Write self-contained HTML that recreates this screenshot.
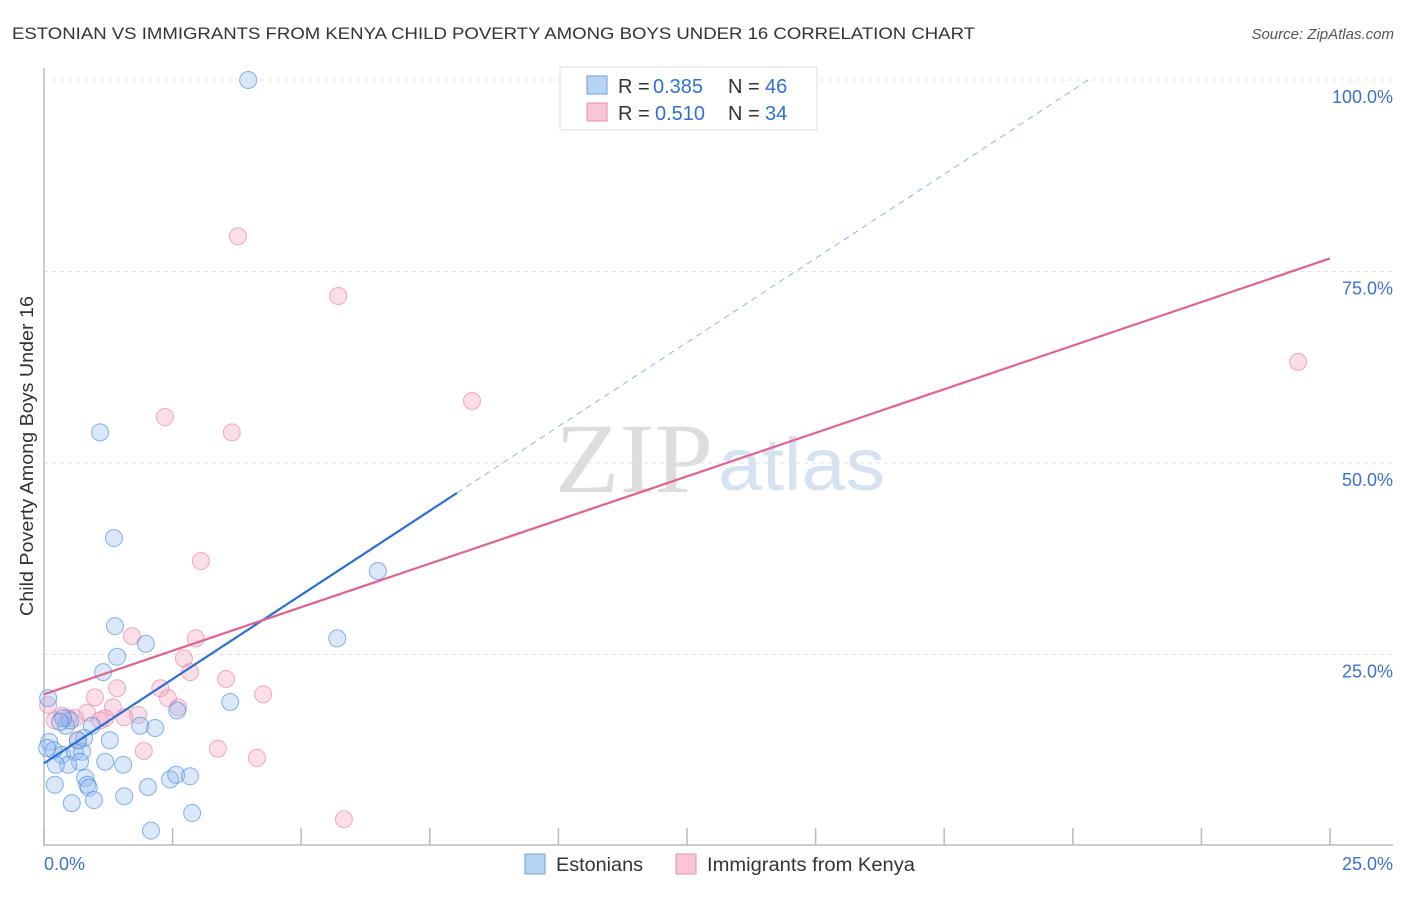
<!DOCTYPE html>
<html><head><meta charset="utf-8"><style>
body{margin:0;background:#fff;font-family:"Liberation Sans",sans-serif}
</style></head><body>
<svg width="1406" height="892" xmlns="http://www.w3.org/2000/svg" font-family="Liberation Sans, sans-serif">
<text x="12" y="39" font-size="17" fill="#333" textLength="963" lengthAdjust="spacingAndGlyphs">ESTONIAN VS IMMIGRANTS FROM KENYA CHILD POVERTY AMONG BOYS UNDER 16 CORRELATION CHART</text>
<text x="1394" y="39" font-size="15" fill="#555" font-style="italic" text-anchor="end">Source: ZipAtlas.com</text>
<text x="555" y="492" font-size="100" fill="#ddd" textLength="158" lengthAdjust="spacingAndGlyphs" font-family="Liberation Serif, serif">ZIP</text>
<text x="718" y="490" font-size="74" fill="#d4e2f2" textLength="167" lengthAdjust="spacingAndGlyphs">atlas</text>
<g id="grid"></g>
<g id="axes"></g>
<g id="marks"></g>
<text transform="translate(33,456) rotate(-90)" font-size="18" fill="#333" text-anchor="middle" textLength="320" lengthAdjust="spacingAndGlyphs">Child Poverty Among Boys Under 16</text>
<g>
<rect x="560" y="67" width="257" height="63" fill="#fff" stroke="#ddd"/>
<rect x="587" y="76" width="20" height="18" fill="#b8d4f5" stroke="#6a9fe0"/>
<text x="618" y="93" font-size="20" fill="#333">R =</text>
<text x="653" y="93" font-size="20" fill="#2f6fd6">0.385</text>
<text x="728" y="93" font-size="20" fill="#333">N =</text>
<text x="765" y="93" font-size="20" fill="#2f6fd6">46</text>
<rect x="587" y="103" width="20" height="18" fill="#f9c6d6" stroke="#ec8fae"/>
<text x="618" y="120" font-size="20" fill="#333">R =</text>
<text x="655" y="120" font-size="20" fill="#2f6fd6">0.510</text>
<text x="728" y="120" font-size="20" fill="#333">N =</text>
<text x="765" y="120" font-size="20" fill="#2f6fd6">34</text>
</g>
<g>
<rect x="525" y="854" width="20" height="20" fill="#b8d4f5" stroke="#6a9fe0"/>
<text x="556" y="871" font-size="19" fill="#333" textLength="87" lengthAdjust="spacingAndGlyphs">Estonians</text>
<rect x="676" y="854" width="20" height="20" fill="#f9c6d6" stroke="#ec8fae"/>
<text x="707" y="871" font-size="19" fill="#333" textLength="208" lengthAdjust="spacingAndGlyphs">Immigrants from Kenya</text>
</g>
</svg>
<script>
const yTicks=[25,50,75,100];
const yTickLabels=["25.0%","50.0%","75.0%","100.0%"];
const xTicks=[0,2.5,5,7.5,10,12.5,15,17.5,20,22.5,25];
const estX=[3.97,1.09,1.36,6.49,5.70,1.38,1.98,1.42,1.15,3.62,2.59,1.87,2.16,0.93,0.43,0.51,0.37,0.10,0.19,0.35,0.60,0.74,0.08,0.70,0.47,0.23,1.19,1.54,0.21,0.80,0.84,0.87,0.97,0.54,1.56,2.02,2.45,2.57,2.84,2.88,2.08,0.78,1.28,0.31,0.06,0.66];
const estY=[100.0,54.0,40.2,35.9,27.1,28.7,26.4,24.7,22.7,18.8,17.7,15.7,15.4,15.7,15.7,16.4,16.7,13.6,12.5,11.9,12.3,12.3,19.3,11.0,10.6,10.6,11.0,10.6,8.0,8.9,8.0,7.6,6.0,5.6,6.5,7.7,8.7,9.3,9.1,4.3,2.0,14.1,13.8,16.2,12.8,13.8];
const kenX=[3.77,5.72,24.38,8.32,2.35,3.65,3.05,1.71,2.95,2.72,1.42,2.26,3.54,2.84,4.26,0.99,2.41,2.61,1.34,0.84,1.83,1.19,1.56,0.60,0.35,0.21,0.08,1.09,0.66,1.94,3.38,4.14,5.83,0.47];
const kenY=[79.6,71.8,63.2,58.1,56.0,54.0,37.2,27.4,27.1,24.5,20.6,20.6,21.8,22.7,19.8,19.4,19.3,18.1,18.1,17.4,17.1,16.7,16.8,16.7,17.0,16.4,18.4,16.4,13.8,12.4,12.7,11.5,3.5,16.7];
const estLine=[0,10.8,8.03,46.1];
const estDash=[8.03,46.1,20.3,100];
const kenLine=[0,19.8,25,76.7];
const NS="http://www.w3.org/2000/svg";
const X=v=>44+v/25*1286, Y=v=>846-v/100*766;
function mk(tag,a,p){const e=document.createElementNS(NS,tag);for(const k in a)e.setAttribute(k,a[k]);document.getElementById(p).appendChild(e);return e;}
yTicks.forEach((t,i)=>{
 const l=mk('line',{x1:44,x2:1393,y1:Y(t),y2:Y(t),stroke:'#e2e2e2','stroke-dasharray':'4,4'},'grid');
 
 
 const tx=mk('text',{x:1393,y:Y(t)+23,'font-size':18,fill:'#3a72d0','text-anchor':'end'},'axes');
 tx.textContent=yTickLabels[i];
 
 
});
const ya=mk('line',{x1:44,x2:44,y1:68,y2:846,stroke:'#bbb','stroke-width':1.5},'axes');


const xa=mk('line',{x1:44,x2:1393,y1:845,y2:845,stroke:'#bbb','stroke-width':1.5},'axes');


xTicks.forEach(t=>{
 const l=mk('line',{x1:X(t),x2:X(t),y1:828,y2:845,stroke:'#bbb','stroke-width':1.5},'axes');
 
 
});
[[0,"0.0%",'start',44],[25,"25.0%",'end',1393]].forEach(d=>{
 const tx=mk('text',{x:d[3],y:870,'font-size':18,fill:'#3a72d0','text-anchor':d[2]},'axes');
 tx.textContent=d[1];
 
 
});
kenX.forEach((v,i)=>{
 const c=mk('circle',{cx:X(v),cy:Y(kenY[i]),r:8.5,fill:'rgba(244,160,190,0.35)',stroke:'rgba(230,120,160,0.6)'},'marks');
 
 
});
estX.forEach((v,i)=>{
 const c=mk('circle',{cx:X(v),cy:Y(estY[i]),r:8.5,fill:'rgba(150,190,240,0.35)',stroke:'rgba(60,130,220,0.6)'},'marks');
 
 
});
const el=mk('line',{x1:X(estLine[0]),y1:Y(estLine[1]),x2:X(estLine[2]),y2:Y(estLine[3]),stroke:'#2a6fd6','stroke-width':2.2},'marks');


const ed=mk('line',{x1:X(estDash[0]),y1:Y(estDash[1]),x2:X(estDash[2]),y2:Y(estDash[3]),stroke:'#8fb4e6','stroke-width':1,'stroke-dasharray':'6,5'},'marks');


const kl=mk('line',{x1:X(kenLine[0]),y1:Y(kenLine[1]),x2:X(kenLine[2]),y2:Y(kenLine[3]),stroke:'#e2618e','stroke-width':2.2},'marks');


</script>
</body></html>
